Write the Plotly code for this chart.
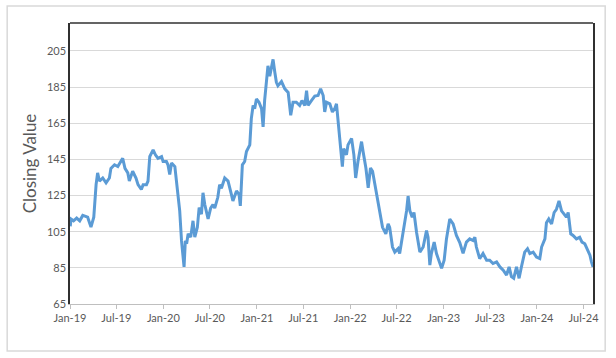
import plotly.graph_objects as go

dates = [
 "2019-01-02","2019-01-05","2019-01-15","2019-01-27","2019-02-08","2019-02-20","2019-03-03","2019-03-11",
 "2019-03-24","2019-04-04","2019-04-13","2019-04-19","2019-04-26","2019-05-09","2019-05-22","2019-06-04",
 "2019-06-10","2019-06-24","2019-07-07","2019-07-20","2019-07-26","2019-08-04","2019-08-15","2019-08-21",
 "2019-09-03","2019-09-16","2019-09-24","2019-10-07","2019-10-14","2019-10-27","2019-11-02","2019-11-09",
 "2019-11-22","2019-12-01","2019-12-11","2019-12-25","2019-12-31","2020-01-13","2020-01-19","2020-01-26",
 "2020-02-02","2020-02-15","2020-02-21","2020-02-27","2020-03-05","2020-03-12","2020-03-16","2020-03-22",
 "2020-03-27","2020-04-01","2020-04-07","2020-04-17","2020-04-26","2020-05-03","2020-05-13","2020-05-20",
 "2020-05-29","2020-06-04","2020-06-11","2020-06-24","2020-07-04","2020-07-13","2020-07-20","2020-08-01",
 "2020-08-08","2020-08-15","2020-08-28","2020-09-04","2020-09-10","2020-09-23","2020-09-29","2020-10-13",
 "2020-10-23","2020-10-28","2020-11-05","2020-11-14","2020-11-21","2020-12-04","2020-12-10","2020-12-17",
 "2020-12-23","2020-12-30","2021-01-09","2021-01-19","2021-01-25","2021-01-31","2021-02-07","2021-02-13",
 "2021-02-20","2021-02-27","2021-03-05","2021-03-12","2021-03-18","2021-03-24","2021-04-07","2021-04-20",
 "2021-05-03","2021-05-13","2021-05-22","2021-06-04","2021-06-17","2021-06-26","2021-07-07","2021-07-14",
 "2021-07-20","2021-08-02","2021-08-15","2021-08-28","2021-09-07","2021-09-17","2021-09-23","2021-09-30",
 "2021-10-13","2021-10-23","2021-11-01","2021-11-08","2021-11-14","2021-11-21","2021-11-27","2021-12-01",
 "2021-12-06","2021-12-17","2021-12-23","2022-01-06","2022-01-15","2022-01-22","2022-01-31","2022-02-14",
 "2022-02-20","2022-03-03","2022-03-12","2022-03-21","2022-03-29","2022-04-07","2022-04-20","2022-04-29",
 "2022-05-07","2022-05-20","2022-05-29","2022-06-04","2022-06-15","2022-06-24","2022-07-07","2022-07-13",
 "2022-07-26","2022-08-09","2022-08-15","2022-08-22","2022-08-31","2022-09-07","2022-09-17","2022-09-30",
 "2022-10-13","2022-10-26","2022-11-01","2022-11-08","2022-11-14","2022-11-25","2022-12-04","2022-12-13",
 "2022-12-24","2023-01-03","2023-01-12","2023-01-25","2023-02-07","2023-02-20","2023-03-05","2023-03-18",
 "2023-03-31","2023-04-13","2023-04-26","2023-05-03","2023-05-09","2023-05-22","2023-06-04","2023-06-18",
 "2023-06-30","2023-07-13","2023-07-27","2023-08-09","2023-08-22","2023-09-04","2023-09-14","2023-09-23",
 "2023-10-02","2023-10-13","2023-10-23","2023-11-01","2023-11-14","2023-11-25","2023-12-04","2023-12-17",
 "2023-12-30","2024-01-12","2024-01-19","2024-02-01","2024-02-07","2024-02-16","2024-02-27","2024-03-08",
 "2024-03-17","2024-03-27","2024-04-06","2024-04-16","2024-04-25","2024-05-02","2024-05-12","2024-05-21",
 "2024-06-03","2024-06-16","2024-06-25","2024-07-06","2024-07-17","2024-07-26","2024-08-01","2024-08-07",
]

closing = [
 108, 112, 111, 112.5, 111, 114, 113.5, 113,
 107.5, 113, 131, 137.5, 133, 134.7, 132, 134.7,
 140, 142, 141, 144.8, 145.6, 140, 137.5, 133,
 138.4, 134.7, 131, 128.4, 131, 131, 133, 146.6,
 150.2, 147.5, 145.6, 146.5, 143.8, 143.8, 142, 136.6,
 143, 141, 133, 122, 116.5, 100, 92.9, 85.5,
 100, 98.3, 103.8, 102, 111, 102, 107.4, 118.3,
 114.7, 126.5, 120, 112, 118, 120, 118, 124,
 131, 129, 134.7, 134, 133, 125.6, 122, 127.5,
 125.6, 119.3, 142, 143.8, 149.3, 153, 167.5, 174.8,
 173, 178.4, 176.6, 173, 163, 177.5, 187, 196.7,
 191, 196.7, 200.3, 193, 187.6, 185.7, 188, 184,
 182, 169.4, 176.6, 176.6, 174.8, 177.5, 174.8, 183,
 174.8, 177.5, 180, 180.3, 184, 180.3, 171.2, 176.6,
 175.7, 171.2, 173, 175.7, 165.7, 156.6, 143.8, 141,
 151, 147.5, 153, 156.6, 147.5, 134.7, 143.8, 154.8,
 149.3, 140.2, 129.3, 140.2, 138.4, 131, 120.2, 114.7,
 107.4, 103.8, 109.3, 107.4, 96.5, 93.7, 95.6, 92.9,
 103.8, 116.5, 124.7, 116.5, 113, 115.6, 104.7, 93.7,
 96.5, 105.6, 102, 86.5, 92.9, 99.2, 92.9, 89.2,
 84.7, 89.2, 101, 112, 109.3, 102.9, 99, 93,
 99.2, 101, 100.1, 101.9, 96.5, 90.1, 92.9, 89.2,
 89.2, 87.4, 88.3, 85.5, 83.7, 81, 85.5, 80.1,
 79.2, 85.5, 79.2, 85.5, 93.7, 95.6, 92.9, 93.7,
 91, 90.1, 96.5, 101, 110, 112, 109.3, 115.6,
 117.4, 122, 116.5, 114.7, 113, 115.6, 103.8, 102.9,
 101, 101.9, 99.2, 98.3, 94.7, 92, 88.3, 85.5,
]

tick_vals = ["2019-01-01","2019-07-01","2020-01-01","2020-07-01","2021-01-01","2021-07-01",
             "2022-01-01","2022-07-01","2023-01-01","2023-07-01","2024-01-01","2024-07-01"]
tick_text = ["Jan-19","Jul-19","Jan-20","Jul-20","Jan-21","Jul-21",
             "Jan-22","Jul-22","Jan-23","Jul-23","Jan-24","Jul-24"]
y_ticks = [65, 85, 105, 125, 145, 165, 185, 205]

fig = go.Figure()
fig.add_trace(go.Scatter(x=dates, y=closing, mode="lines",
                         line=dict(color="#5b9bd5", width=3), showlegend=False))

fig.update_layout(
    width=616, height=358,
    margin=dict(l=70.3, r=22.7, t=22.5, b=53.7),
    paper_bgcolor="white", plot_bgcolor="white",
    font=dict(family="Lato, Liberation Sans, sans-serif", color="#595959"),
    xaxis=dict(range=["2019-01-01", "2024-08-07"], tickvals=tick_vals, ticktext=tick_text,
               showgrid=False, showline=True, linecolor="#bfbfbf", linewidth=1,
               ticks="outside", ticklen=4, tickcolor="#bfbfbf",
               tickfont=dict(size=11, color="#595959"), zeroline=False),
    yaxis=dict(range=[65, 220.4], tickvals=y_ticks, showgrid=True, gridcolor="#d9d9d9",
               gridwidth=1, showline=True, linecolor="#303030", linewidth=1.5, mirror=True,
               ticks="", tickfont=dict(size=11, color="#595959"), zeroline=False,
               title=dict(text="Closing Value", font=dict(size=17, color="#595959"), standoff=6)),
    shapes=[
        dict(type="line", xref="paper", yref="paper", x0=0, x1=1, y0=1, y1=1,
             line=dict(color="#303030", width=1.5)),
        dict(type="rect", xref="paper", yref="paper", x0=-0.1201, x1=1.0233, y0=-0.1675, y1=1.0603,
             line=dict(color="#d9d9d9", width=1.5), layer="below"),
    ],
)

fig.write_html("out.html", config={"displayModeBar": False},
               post_script="document.body.style.margin='0';")
